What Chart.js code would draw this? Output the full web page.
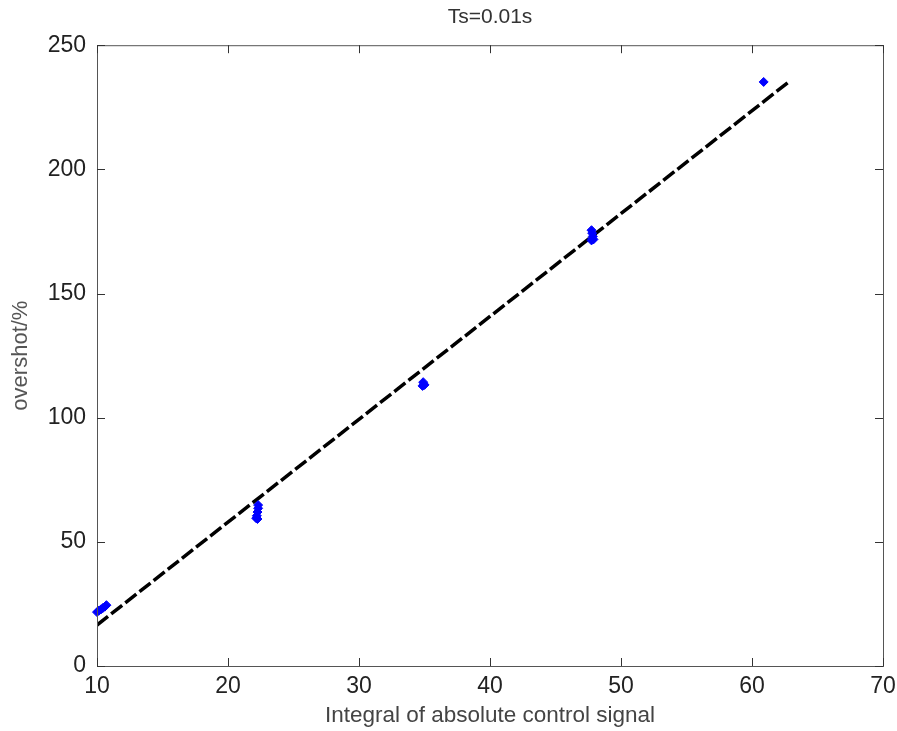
<!DOCTYPE html>
<html>
<head>
<meta charset="utf-8">
<script src="https://cdn.jsdelivr.net/npm/chart.js@4.4.1/dist/chart.umd.min.js"></script>
<style>
  html, body { margin: 0; padding: 0; background: #fff; }
  #wrap { width: 897px; height: 731px; }
</style>
</head>
<body>
<div id="wrap"><canvas id="c" width="897" height="731"></canvas></div>
<script>
// ---- data ----
const pointX = [10.0, 10.15, 10.3, 10.45, 10.6, 10.72,
                22.3, 22.3, 22.25, 22.2, 22.15, 22.25,
                34.85, 34.95, 34.9, 35.0,
                47.75, 47.8, 47.85, 47.8, 47.75, 47.9,
                60.89];
const pointY = [21.7, 22.3, 22.8, 23.4, 23.9, 24.5,
                64.8, 63.5, 62.0, 60.5, 59.5, 59.2,
                112.8, 113.5, 114.3, 113.2,
                175.5, 174.3, 173.0, 172.0, 171.4, 171.8,
                235.2];
const fitX = [10, 62.75];
const fitY = [16.5, 235];
const xTicks = [10, 20, 30, 40, 50, 60, 70];
const yTicks = [0, 50, 100, 150, 200, 250];
const titleText = 'Ts=0.01s';
const xLabel = 'Integral of absolute control signal';
const yLabel = 'overshot/%';

const scatterData = pointX.map((x, i) => ({ x: x, y: pointY[i] }));
const fitData = fitX.map((x, i) => ({ x: x, y: fitY[i] }));

// MATLAB-style box with inward ticks on all four sides
const boxPlugin = {
  id: 'box',
  afterDraw(chart) {
    const { ctx, chartArea: a, scales } = chart;
    ctx.save();
    ctx.strokeStyle = '#555';
    ctx.lineWidth = 1;
    ctx.strokeRect(a.left + 0.5, a.top + 0.5, a.right - a.left, a.bottom - a.top);
    ctx.strokeStyle = '#333';
    const L = 8;
    ctx.beginPath();
    xTicks.forEach(v => {
      const px = Math.round(scales.x.getPixelForValue(v)) + 0.5;
      ctx.moveTo(px, a.bottom); ctx.lineTo(px, a.bottom - L);
      ctx.moveTo(px, a.top); ctx.lineTo(px, a.top + L);
    });
    yTicks.forEach(v => {
      const py = Math.round(scales.y.getPixelForValue(v)) + 0.5;
      ctx.moveTo(a.left, py); ctx.lineTo(a.left + L, py);
      ctx.moveTo(a.right, py); ctx.lineTo(a.right - L, py);
    });
    ctx.stroke();
    ctx.restore();
  }
};

const tickFont = { family: 'Liberation Sans, Arial, sans-serif', size: 23 };

new Chart(document.getElementById('c'), {
  type: 'scatter',
  data: {
    datasets: [
      {
        type: 'line',
        data: fitData,
        borderColor: '#000',
        borderWidth: 3.5,
        borderDash: [14, 4],
        pointRadius: 0,
        fill: false,
        order: 2
      },
      {
        type: 'scatter',
        data: scatterData,
        pointStyle: 'rectRot',
        pointRadius: 4.5,
        backgroundColor: '#0000ff',
        borderColor: '#0000ff',
        borderWidth: 1,
        clip: false,
        order: 1
      }
    ]
  },
  options: {
    responsive: false,
    animation: false,
    devicePixelRatio: 1,
    layout: { padding: { left: 0, right: 14, top: 0, bottom: 0 } },
    plugins: {
      legend: { display: false },
      tooltip: { enabled: false },
      title: {
        display: true,
        text: titleText,
        fullSize: false,
        color: '#333',
        font: { family: 'Liberation Sans, Arial, sans-serif', size: 21, weight: 'normal' },
        padding: { top: 5, bottom: 15 }
      }
    },
    scales: {
      x: {
        type: 'linear',
        min: 10, max: 70,
        afterBuildTicks: s => { s.ticks = xTicks.map(v => ({ value: v })); },
        afterFit: s => { s.height = 65; s.paddingRight = 0; s.paddingLeft = 0; },
        grid: { display: false, drawTicks: false },
        border: { display: false },
        ticks: { color: '#222', font: tickFont, padding: 7, maxRotation: 0 },
        title: {
          display: true, text: xLabel, color: '#444',
          font: { family: 'Liberation Sans, Arial, sans-serif', size: 22.5 },
          padding: { top: 0, bottom: 2 }
        }
      },
      y: {
        type: 'linear',
        min: 0, max: 250,
        afterBuildTicks: s => { s.ticks = yTicks.map(v => ({ value: v })); },
        afterFit: s => { s.width = 97; s.paddingTop = 0; s.paddingBottom = 0; },
        grid: { display: false, drawTicks: false },
        border: { display: false },
        ticks: { color: '#222', font: tickFont, padding: 11 },
        title: {
          display: true, text: yLabel, color: '#555',
          font: { family: 'Liberation Sans, Arial, sans-serif', size: 22 },
          padding: { top: 8, bottom: 0 }
        }
      }
    }
  },
  plugins: [boxPlugin]
});
</script>
</body>
</html>
